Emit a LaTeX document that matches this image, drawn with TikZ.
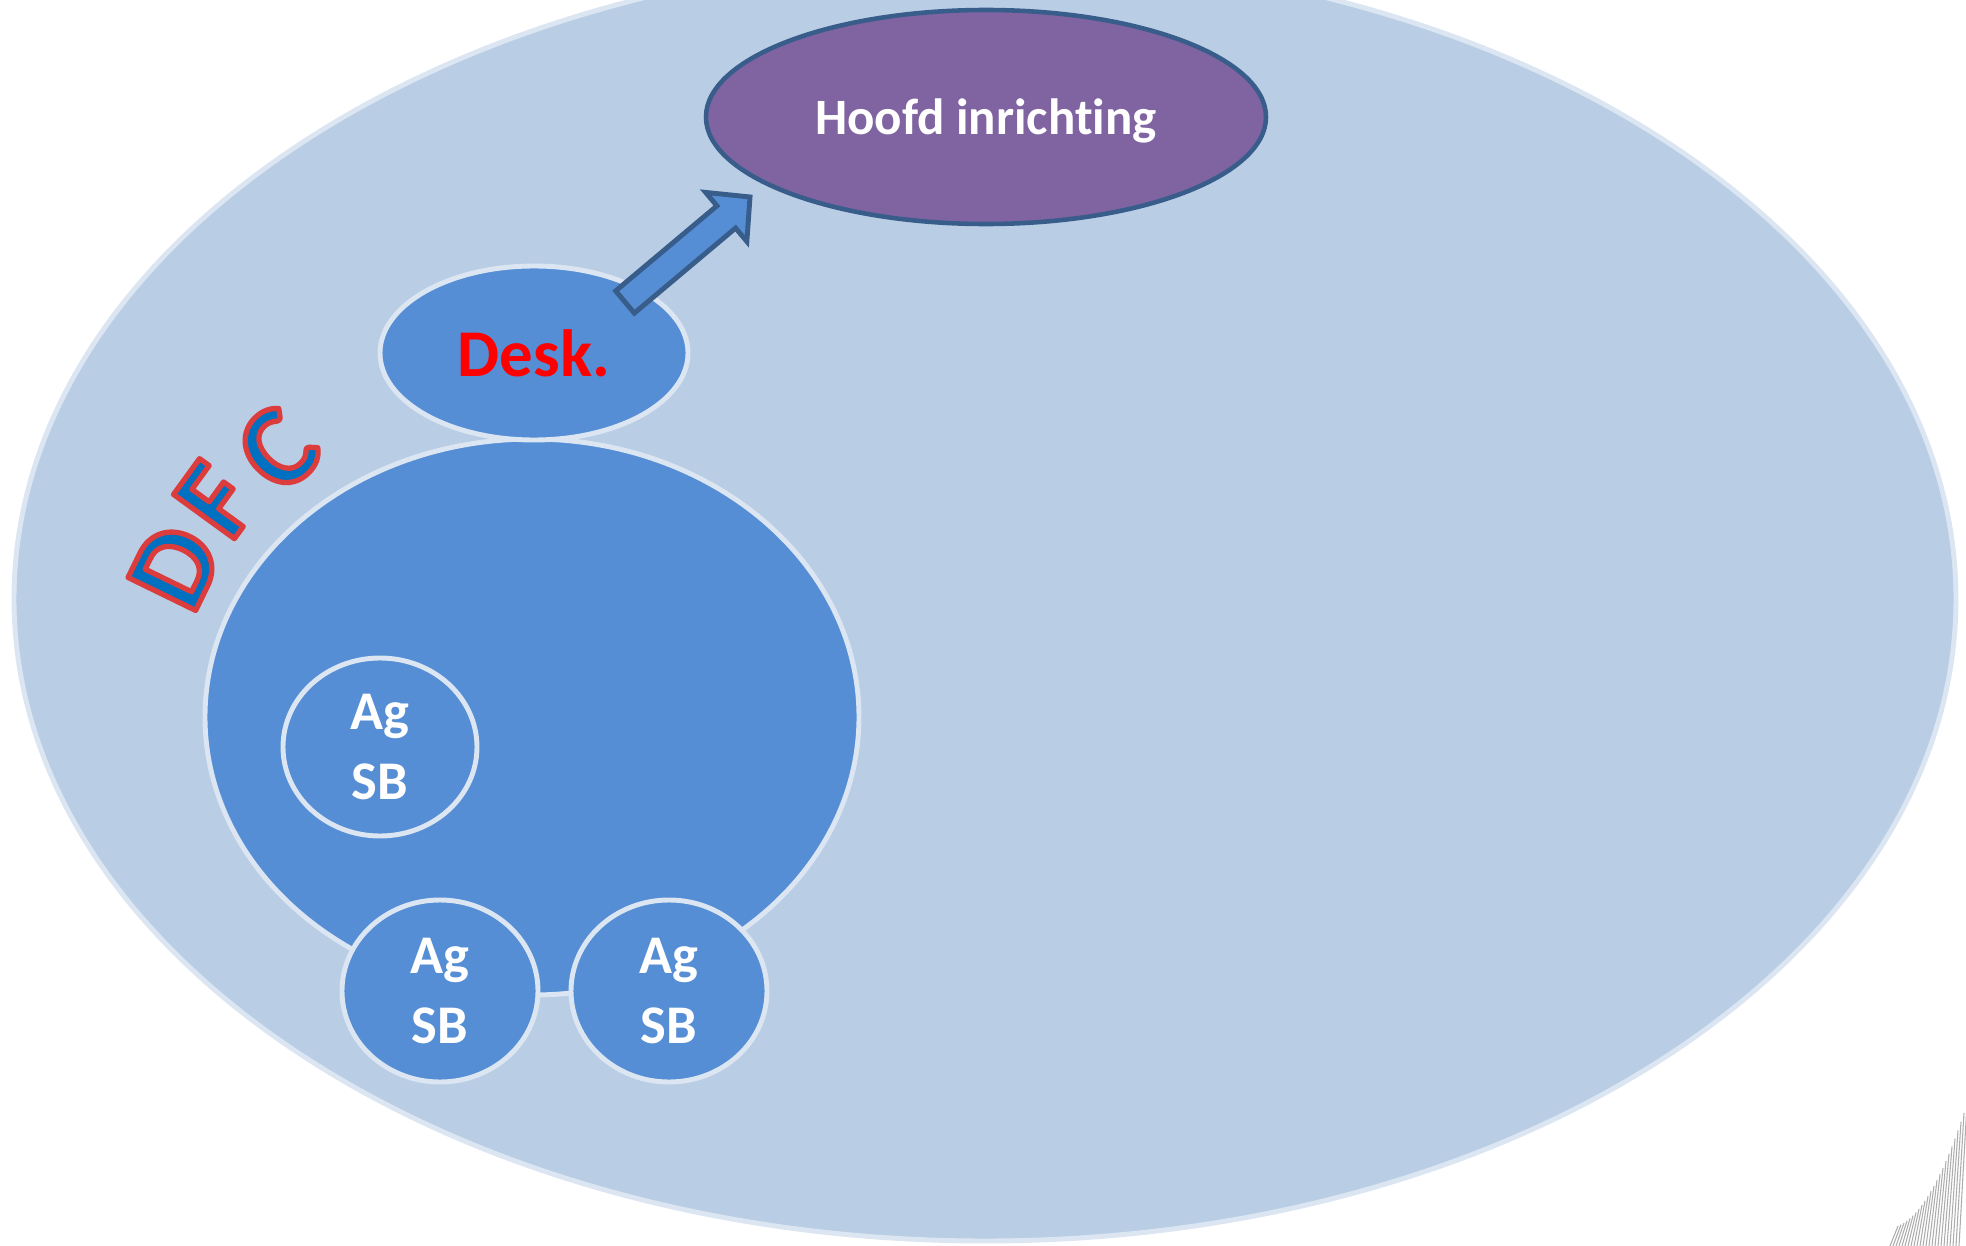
\documentclass[tikz,border=0pt]{standalone}
\usepackage{fontspec}
\setmainfont{Carlito}[Ligatures=NoCommon]
\usetikzlibrary{shapes.geometric}
\usetikzlibrary{calc}

\definecolor{bgblue}{HTML}{B9CDE5}
\definecolor{rimblue}{HTML}{DCE6F2}
\definecolor{midblue}{HTML}{558ED5}
\definecolor{hoofdpurple}{HTML}{8064A2}
\definecolor{navyrim}{HTML}{385D8A}
\definecolor{dfcblue}{HTML}{0070C0}

% letter filled blue and stroked red
\newcommand{\rimletter}[1]{\special{pdf:code q 2 Tr 1.5 w 1 j 0.867 0.235 0.235 RG}#1\special{pdf:code Q}}

\begin{document}
\begin{tikzpicture}[x=0.1mm,y=-0.1mm]
  \tikzset{
blob/.style={ellipse,
  draw=rimblue,
    line width=1.4pt,
    fill=midblue,
    inner sep=0pt},
agsb/.style={blob,
    minimum width=19.6mm,
    minimum height=18.2mm,
    text=white,
    align=center,
    font=\fontsize{15.5}{20}\selectfont\bfseries},
dfc/.style={inner sep=0pt,
    text=dfcblue,
    font=\fontsize{33}{33}\selectfont\bfseries},
}
  \clip (0,0) rectangle (1966,1246);

  % background
  \fill [bgblue, draw=rimblue, line width=1.4pt] (985,599) ellipse [x radius=971, y radius=642];

  % Nodes
  \node [blob, minimum width=65.4mm, minimum height=55.6mm] (dfcarea) at (532,717) {};
  \node [blob, minimum width=30.8mm, minimum height=17.4mm, text=red,
    font=\fontsize{19}{19}\selectfont\bfseries] (desk) at (534,353) {Desk.};
  \node [ellipse, draw=navyrim, line width=1.3pt, fill=hoofdpurple, inner sep=0pt,
    minimum width=56mm, minimum height=21.4mm, text=white, text depth=0pt,
    font=\fontsize{14.5}{14.5}\selectfont\bfseries] (hoofd) at (986,117) {Hoofd inrichting};
  \node [agsb, minimum width=19.4mm, minimum height=17.8mm] (agsba) at (380,747) {Ag\\SB};
  \node [agsb] (agsbb) at (440,991) {Ag\\SB};
  \node [agsb] (agsbc) at (669,991) {Ag\\SB};

  % DFC on an arc
  \node [dfc, rotate=64] (dfcd) at (175,567) {\rimletter{D}};
  \node [dfc, rotate=54] (dfcf) at (216,500) {\rimletter{F}};
  \node [dfc, rotate=44] (dfcc) at (278,449) {\rimletter{C}};

  % block arrow from desk to hoofd
  \coordinate (arrtail) at ($(desk.center)+(91,-51)$);
  \coordinate (arrtip) at ($(hoofd.center)+(-236,80)$);
  \coordinate (arrneck) at ($(arrtip)!3.1mm!(arrtail)$);
  \draw [navyrim, fill=midblue, line width=1.4pt, line join=miter]
    ($(arrtail)!1.45mm!90:(arrtip)$) -- ($(arrneck)!1.45mm!-90:(arrtail)$)
    -- ($(arrneck)!3.2mm!-90:(arrtail)$) -- (arrtip)
    -- ($(arrneck)!3.2mm!90:(arrtail)$) -- ($(arrneck)!1.45mm!90:(arrtail)$)
    -- ($(arrtail)!1.45mm!-90:(arrtip)$) -- cycle;

  % corner decoration
  \foreach \u in {0,3,...,69} {
    \pgfmathsetmacro\hh{20+0.392*\u+0.02*\u*\u}
    \draw [gray!65, line width=0.3pt] (1898+\u,1246-\hh) -- (1890+\u,1246);
  }
\end{tikzpicture}
\end{document}
